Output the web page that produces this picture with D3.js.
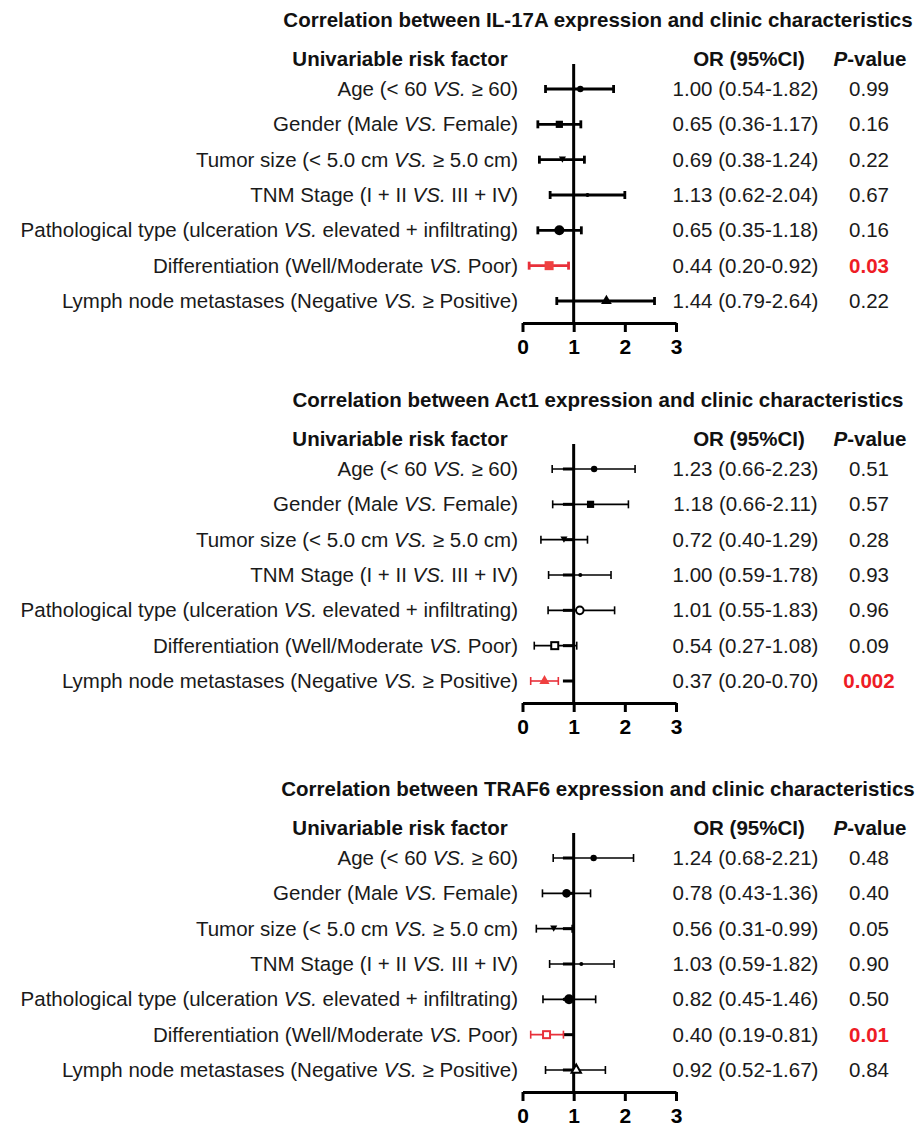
<!DOCTYPE html>
<html><head><meta charset="utf-8">
<script src="https://cdn.jsdelivr.net/npm/d3@7"></script>
<style>body{margin:0;background:#fff}svg{display:block;font-family:Arial,"Liberation Sans",sans-serif}</style>
</head><body>
<script>
const labelsBefore = ["Age (< 60 ","Gender (Male ","Tumor size (< 5.0 cm ","TNM Stage (I + II ","Pathological type (ulceration ","Differentiation (Well/Moderate ","Lymph node metastases (Negative "];
const labelsAfter = [" ≥ 60)"," Female)"," ≥ 5.0 cm)"," III + IV)"," elevated + infiltrating)"," Poor)"," ≥ Positive)"];
const genes = ["IL-17A","Act1","TRAF6"];
const orText1 = ["1.00 (0.54-1.82)","0.65 (0.36-1.17)","0.69 (0.38-1.24)","1.13 (0.62-2.04)","0.65 (0.35-1.18)","0.44 (0.20-0.92)","1.44 (0.79-2.64)"];
const orText2 = ["1.23 (0.66-2.23)","1.18 (0.66-2.11)","0.72 (0.40-1.29)","1.00 (0.59-1.78)","1.01 (0.55-1.83)","0.54 (0.27-1.08)","0.37 (0.20-0.70)"];
const orText3 = ["1.24 (0.68-2.21)","0.78 (0.43-1.36)","0.56 (0.31-0.99)","1.03 (0.59-1.82)","0.82 (0.45-1.46)","0.40 (0.19-0.81)","0.92 (0.52-1.67)"];
const pText1 = ["0.99","0.16","0.22","0.67","0.16","0.03","0.22"];
const pText2 = ["0.51","0.57","0.28","0.93","0.96","0.09","0.002"];
const pText3 = ["0.48","0.40","0.05","0.90","0.50","0.01","0.84"];
const sigRow = [5, 6, 5];
// plotted values (as drawn in the picture)
const est1 = [1.13,0.72,0.78,1.27,0.72,0.52,1.64];
const lo1  = [0.45,0.30,0.33,0.54,0.30,0.13,0.67];
const hi1  = [1.78,1.14,1.21,2.00,1.15,0.90,2.58];
const est2 = [1.40,1.33,0.81,1.13,1.12,0.63,0.43];
const lo2  = [0.58,0.59,0.36,0.51,0.50,0.23,0.16];
const hi2  = [2.20,2.07,1.27,1.73,1.80,1.06,0.70];
const est3 = [1.39,0.86,0.61,1.15,0.91,0.47,1.05];
const lo3  = [0.60,0.39,0.27,0.53,0.40,0.16,0.45];
const hi3  = [2.17,1.33,0.97,1.79,1.43,0.80,1.62];
const xTicks = [0,1,2,3];
// marker shapes per panel
const shapes1 = ["dotS","square","tridown","dotXS","dotL","squareRed","triup"];
const shapes2 = ["dotS","square","tridown","dotXS","openCircle","openSquare","triRed"];
const shapes3 = ["dotS","dotM","tridown","dotXS","dotL","openSquareRed","openTri"];

const panels = [
  {gene:genes[0], or:orText1, p:pText1, est:est1, lo:lo1, hi:hi1, shapes:shapes1, row0:89, sig:sigRow[0], thick:true},
  {gene:genes[1], or:orText2, p:pText2, est:est2, lo:lo2, hi:hi2, shapes:shapes2, row0:469, sig:sigRow[1], thick:false},
  {gene:genes[2], or:orText3, p:pText3, est:est3, lo:lo3, hi:hi3, shapes:shapes3, row0:858, sig:sigRow[2], thick:false}
];

const W=919,H=1127, FS=20.5;
const svg=d3.select("body").append("svg").attr("width",W).attr("height",H);
const x=d3.scaleLinear().domain([0,3]).range([522.5,676]);
const RED="#e8303a", PRED="#ee1c25";

panels.forEach((P,pi)=>{
  const g=svg.append("g");
  const y=d3.scaleLinear().domain([0,6]).range([P.row0,P.row0+212]);
  const axisY=P.row0+234;
  g.append("text").attr("x",598).attr("y",P.row0-62).attr("text-anchor","middle")
    .attr("font-size",FS).attr("font-weight","bold").attr("fill","#111")
    .text(`Correlation between ${P.gene} expression and clinic characteristics`);
  g.append("text").attr("x",400).attr("y",P.row0-23).attr("text-anchor","middle")
    .attr("font-size",FS).attr("font-weight","bold").attr("fill","#111").text("Univariable risk factor");
  g.append("text").attr("x",749).attr("y",P.row0-23).attr("text-anchor","middle")
    .attr("font-size",FS).attr("font-weight","bold").attr("fill","#111").text("OR (95%CI)");
  const ph=g.append("text").attr("x",870).attr("y",P.row0-23).attr("text-anchor","middle")
    .attr("font-size",FS).attr("font-weight","bold").attr("fill","#111");
  ph.append("tspan").attr("font-style","italic").text("P");
  ph.append("tspan").text("-value");

  d3.range(7).forEach(i=>{
    const t=g.append("text").attr("x",518).attr("y",y(i)+7).attr("text-anchor","end").attr("font-size",FS).attr("fill","#1a1a1a");
    t.append("tspan").text(labelsBefore[i]);
    t.append("tspan").attr("font-style","italic").text("VS.");
    t.append("tspan").text(labelsAfter[i]);
    g.append("text").attr("x",745.5).attr("y",y(i)+7).attr("text-anchor","middle").attr("font-size",FS).attr("fill","#1a1a1a").text(P.or[i]);
    const sig=i===P.sig;
    g.append("text").attr("x",869).attr("y",y(i)+7).attr("text-anchor","middle").attr("font-size",FS)
      .attr("font-weight",sig?"bold":"normal").attr("fill",sig?PRED:"#1a1a1a").text(P.p[i]);
  });

  // axis
  const ax=d3.axisBottom(x).tickValues(xTicks).tickFormat(d3.format("d")).tickSize(9).tickSizeOuter(0);
  const axg=g.append("g").attr("transform",`translate(0,${axisY})`).call(ax);
  axg.select(".domain").attr("stroke","#000").attr("stroke-width",3);
  axg.selectAll(".tick line").attr("stroke","#000").attr("stroke-width",3);
  axg.selectAll(".tick text").attr("font-size",21).attr("font-weight","bold").attr("font-family","Arial,'Liberation Sans',sans-serif").attr("fill","#000").attr("y",31).attr("dy",null);
  // reference line at 1
  g.append("line").attr("x1",x(1)).attr("x2",x(1)).attr("y1",P.row0-25).attr("y2",axisY).attr("stroke","#000").attr("stroke-width",3);

  const lw=P.thick?2.8:1.6;
  d3.range(7).forEach(i=>{
    const red=P.shapes[i].toLowerCase().includes("red");
    const col=red?RED:"#000";
    const cy=y(i);
    if(!P.thick){
      g.append("line").attr("x1",x(0.79)).attr("x2",x(1)).attr("y1",cy).attr("y2",cy).attr("stroke","#000").attr("stroke-width",3);
    }
    g.append("line").attr("x1",x(P.lo[i])).attr("x2",x(P.hi[i])).attr("y1",cy).attr("y2",cy).attr("stroke",col).attr("stroke-width",lw);
    [P.lo[i],P.hi[i]].forEach(v=>g.append("line").attr("x1",x(v)).attr("x2",x(v)).attr("y1",cy-4).attr("y2",cy+4).attr("stroke",col).attr("stroke-width",lw));
    const cx=x(P.est[i]);
    const s=P.shapes[i];
    if(s==="dotS") g.append("circle").attr("cx",cx).attr("cy",cy).attr("r",3.2).attr("fill",col);
    else if(s==="dotXS") g.append("circle").attr("cx",cx).attr("cy",cy).attr("r",2).attr("fill",col);
    else if(s==="dotM") g.append("circle").attr("cx",cx).attr("cy",cy).attr("r",4.3).attr("fill",col);
    else if(s==="dotL") g.append("circle").attr("cx",cx).attr("cy",cy).attr("r",5).attr("fill",col);
    else if(s==="square") g.append("rect").attr("x",cx-3.6).attr("y",cy-3.6).attr("width",7.2).attr("height",7.2).attr("fill",col);
    else if(s==="squareRed") g.append("rect").attr("x",cx-4.5).attr("y",cy-4.5).attr("width",9).attr("height",9).attr("fill","#ef4040");
    else if(s==="openSquare"||s==="openSquareRed") g.append("rect").attr("x",cx-3.5).attr("y",cy-3.5).attr("width",7).attr("height",7).attr("fill","#fff").attr("stroke",col).attr("stroke-width",2);
    else if(s==="openCircle") g.append("circle").attr("cx",cx).attr("cy",cy).attr("r",3.8).attr("fill","#fff").attr("stroke",col).attr("stroke-width",2);
    else if(s==="tridown") g.append("path").attr("d",d3.symbol(d3.symbolTriangle,22)()).attr("transform",`translate(${cx},${cy-1}) rotate(180)`).attr("fill",col);
    else if(s==="triup") g.append("path").attr("d",d3.symbol(d3.symbolTriangle,50)()).attr("transform",`translate(${cx},${cy})`).attr("fill",col);
    else if(s==="triRed") g.append("path").attr("d",d3.symbol(d3.symbolTriangle,45)()).attr("transform",`translate(${cx},${cy})`).attr("fill","#ef4040");
    else if(s==="openTri") g.append("path").attr("d",d3.symbol(d3.symbolTriangle,38)()).attr("transform",`translate(${cx},${cy})`).attr("fill","#fff").attr("stroke",col).attr("stroke-width",2);
  });
});
</script>
</body></html>
